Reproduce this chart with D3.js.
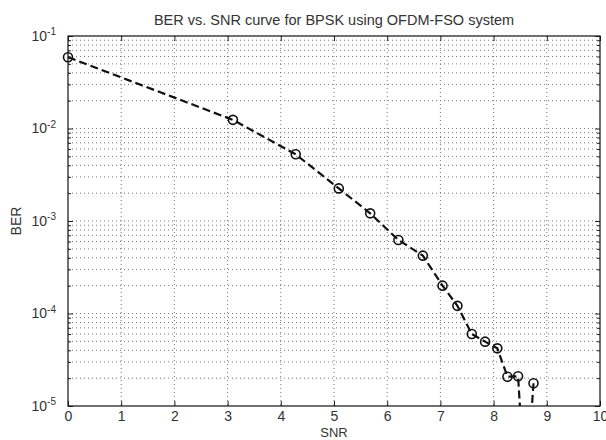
<!DOCTYPE html>
<html>
<head>
<meta charset="utf-8">
<script src="https://cdn.jsdelivr.net/npm/d3@7"></script>
<style>
  body { margin: 0; background: #fff; }
  text { font-family: "Liberation Sans", Arial, sans-serif; fill: #333; }
</style>
</head>
<body>
<script>
// values
const snr = [0, 3.1, 4.28, 5.09, 5.68, 6.21, 6.67, 7.04, 7.32, 7.59, 7.84, 8.07, 8.26, 8.46, 8.6, 8.75];
const ber = [5.9e-2, 1.24e-2, 5.26e-3, 2.25e-3, 1.21e-3, 6.24e-4, 4.22e-4, 2.0e-4, 1.21e-4,
             6.0e-5, 4.96e-5, 4.2e-5, 2.07e-5, 2.1e-5, 1e-6, 1.76e-5];
const xTicks = [0, 1, 2, 3, 4, 5, 6, 7, 8, 9, 10];
const yDecades = [-5, -4, -3, -2, -1];

const W = 606, H = 440;
const box = { left: 68, right: 600, top: 36, bottom: 406 };

const x = d3.scaleLinear().domain([0, 10]).range([box.left, box.right]);
const y = d3.scaleLog().domain([1e-5, 1e-1]).range([box.bottom, box.top]);

const svg = d3.select("body").append("svg")
  .attr("width", W)
  .attr("height", H);

// minor + major y values for the log grid
const yAll = [];
yDecades.slice(0, -1).forEach(e => {
  for (let m = 1; m < 10; m++) yAll.push(m * Math.pow(10, e));
});
yAll.push(1e-1);

// grid
const grid = svg.append("g").attr("stroke", "#777").attr("stroke-dasharray", "1,3").attr("stroke-width", 1);
grid.selectAll(".gx")
  .data(xTicks.slice(1, -1))
  .enter().append("line")
  .attr("x1", d => x(d)).attr("x2", d => x(d))
  .attr("y1", box.top).attr("y2", box.bottom);
grid.selectAll(".gy")
  .data(yAll.filter(v => v > 1e-5 && v < 1e-1))
  .enter().append("line")
  .attr("x1", box.left).attr("x2", box.right)
  .attr("y1", d => y(d)).attr("y2", d => y(d));

// x axis (bottom + top), ticks inside
svg.append("g")
  .attr("transform", "translate(0," + box.bottom + ")")
  .call(d3.axisBottom(x).tickValues(xTicks).tickSizeInner(-5).tickSizeOuter(0).tickPadding(5))
  .call(g => g.selectAll("text").attr("font-size", 14).style("fill", "#333"));
svg.append("g")
  .attr("transform", "translate(0," + box.top + ")")
  .call(d3.axisTop(x).tickValues(xTicks).tickSizeInner(-5).tickSizeOuter(0).tickFormat(""));

// y axis (left + right), major ticks inside, minor ticks shorter
const yMajor = yDecades.map(e => Math.pow(10, e));
const yMinor = yAll.filter(v => !yMajor.some(m => Math.abs(m - v) / m < 1e-6));

const yl = svg.append("g")
  .attr("transform", "translate(" + box.left + ",0)")
  .call(d3.axisLeft(y).tickValues(yMajor).tickSizeInner(-5).tickSizeOuter(0).tickPadding(12).tickFormat(""));
yl.selectAll(".tick text")
  .attr("font-size", 14)
  .style("fill", "#333")
  .each(function(d) {
    const t = d3.select(this);
    t.append("tspan").text("10");
    t.append("tspan").attr("dy", "-0.55em").attr("font-size", 10).text(Math.round(Math.log10(d)));
  });
svg.append("g")
  .attr("transform", "translate(" + box.left + ",0)")
  .call(d3.axisLeft(y).tickValues(yMinor).tickSizeInner(-3).tickSizeOuter(0).tickFormat(""));
svg.append("g")
  .attr("transform", "translate(" + box.right + ",0)")
  .call(d3.axisRight(y).tickValues(yMajor).tickSizeInner(-5).tickSizeOuter(0).tickFormat(""));
svg.append("g")
  .attr("transform", "translate(" + box.right + ",0)")
  .call(d3.axisRight(y).tickValues(yMinor).tickSizeInner(-3).tickSizeOuter(0).tickFormat(""));

svg.selectAll(".domain").remove();
svg.selectAll(".tick line").attr("stroke", "#222");

// box
svg.append("rect")
  .attr("x", box.left).attr("y", box.top)
  .attr("width", box.right - box.left).attr("height", box.bottom - box.top)
  .attr("fill", "none").attr("stroke", "#111").attr("stroke-width", 1.2);

// clip only below the bottom axis (values fall off the log scale)
svg.append("clipPath").attr("id", "clip")
  .append("rect").attr("x", 0).attr("y", 0).attr("width", W).attr("height", box.bottom);

const pts = snr.map((s, i) => ({ s: s, b: ber[i] }));

const plot = svg.append("g").attr("clip-path", "url(#clip)");
plot.append("path")
  .datum(pts)
  .attr("fill", "none")
  .attr("stroke", "#111")
  .attr("stroke-width", 2.2)
  .attr("stroke-dasharray", "8,4")
  .attr("d", d3.line().x(d => x(d.s)).y(d => y(d.b)));

plot.selectAll(".dot")
  .data(pts)
  .enter().append("circle")
  .attr("cx", d => x(d.s))
  .attr("cy", d => y(d.b))
  .attr("r", 4.5)
  .attr("fill", "none")
  .attr("stroke", "#111")
  .attr("stroke-width", 1.6);

// labels
svg.append("text")
  .attr("x", (box.left + box.right) / 2)
  .attr("y", 25)
  .attr("text-anchor", "middle")
  .attr("font-size", 14.5)
  .text("BER vs. SNR curve for BPSK using OFDM-FSO system");

svg.append("text")
  .attr("x", (box.left + box.right) / 2)
  .attr("y", 437)
  .attr("text-anchor", "middle")
  .attr("font-size", 13)
  .text("SNR");

svg.append("text")
  .attr("transform", "translate(21," + ((box.top + box.bottom) / 2) + ") rotate(-90)")
  .attr("text-anchor", "middle")
  .attr("font-size", 14)
  .text("BER");
</script>
</body>
</html>
